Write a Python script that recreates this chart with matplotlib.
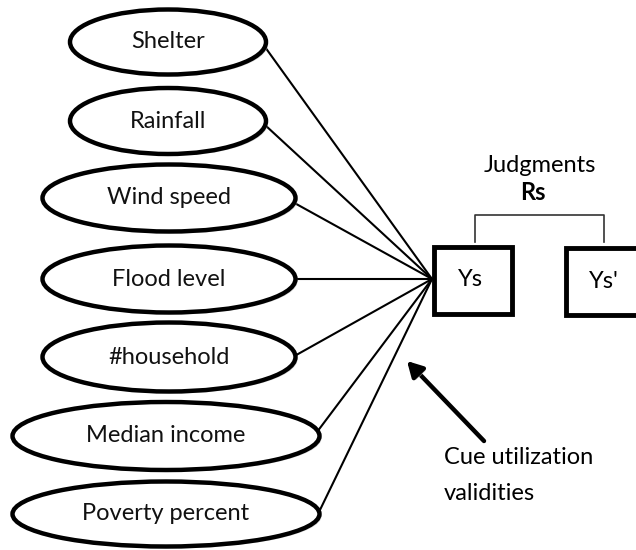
import matplotlib
matplotlib.use("Agg")
import matplotlib.pyplot as plt
from matplotlib.patches import Ellipse, Rectangle, FancyArrowPatch
import matplotlib.patheffects as pe

# ---- content ----
cue_labels = ["Shelter", "Rainfall", "Wind speed", "Flood level",
              "#household", "Median income", "Poverty percent"]
judgment_title = "Judgments"
judgment_symbol = "Rs"
box_labels = ["Ys", "Ys'"]
arrow_caption = ["Cue utilization", "validities"]

# ---- layout (pixel coordinates, y downward) ----
cue_cx = [168, 168, 169, 169, 169, 166, 166]
cue_cy = [42, 121, 198, 279, 357, 436, 514]
cue_w = [196, 196, 253, 253, 253, 307, 307]
cue_h = [65, 66, 67, 67, 69, 68, 65]
line_start_y = [47, 125, 203, 279, 356, 430, 513]
hub = (432, 279)

W, H = 636, 550
fig = plt.figure(figsize=(W / 100, H / 100), dpi=100)
ax = fig.add_axes([0, 0, 1, 1])
ax.set_xlim(0, W)
ax.set_ylim(H, 0)
ax.axis("off")

font = ["Lato", "DejaVu Sans"]
fs = 17
shadow = [pe.SimplePatchShadow(offset=(1.5, -1.5), shadow_rgbFace="0.75", alpha=0.6), pe.Normal()]

# connecting lines
for cx, w, ly in zip(cue_cx, cue_w, line_start_y):
    ax.plot([cx + w / 2 - 1, hub[0]], [ly, hub[1]], color="black", lw=1.5,
            solid_capstyle="round", zorder=2)

# ellipses
for lab, cx, cy, w, h in zip(cue_labels, cue_cx, cue_cy, cue_w, cue_h):
    e = Ellipse((cx, cy), w, h, facecolor="white", edgecolor="black", lw=3.2, zorder=3)
    e.set_path_effects(shadow)
    ax.add_patch(e)
    ax.text(cx, cy, lab, ha="center", va="center", fontsize=fs, family=font,
            color="#111111", zorder=4)

# boxes
b1 = Rectangle((434, 247), 78, 67, facecolor="white", edgecolor="black", lw=3.5, zorder=3)
b2 = Rectangle((566, 248), 90, 67, facecolor="white", edgecolor="black", lw=3.5, zorder=3,
               clip_on=False)
for b in (b1, b2):
    b.set_path_effects(shadow)
    ax.add_patch(b)
ax.text(470, 280, box_labels[0], ha="center", va="center", fontsize=fs, family=font, zorder=4)
ax.text(604, 282, box_labels[1], ha="center", va="center", fontsize=fs, family=font, zorder=4)

# bracket
ax.plot([475, 475, 604, 604], [242, 215, 215, 242], color="#333333", lw=1.2, zorder=2)

# judgments label (bottom clipped as in reference)
t = ax.text(540, 165, judgment_title, ha="center", va="center", fontsize=fs,
            family=font, zorder=4)
clip = Rectangle((470, 140), 150, 33, transform=ax.transData, visible=False)
ax.add_patch(clip)
t.set_clip_path(clip)
ax.text(533, 193, judgment_symbol, ha="center", va="center", fontsize=fs,
        family=font, fontweight="bold", zorder=4)

# arrow
arr = FancyArrowPatch((484, 441), (407, 361), arrowstyle="-|>,head_length=9,head_width=5",
                      mutation_scale=1, color="black", lw=3.2, zorder=4, shrinkA=0, shrinkB=0)
arr.set_path_effects(shadow)
ax.add_patch(arr)

ax.text(444, 457, arrow_caption[0], ha="left", va="center", fontsize=fs, family=font)
ax.text(444, 493, arrow_caption[1], ha="left", va="center", fontsize=fs, family=font)

fig.savefig("out.png", dpi=100)
